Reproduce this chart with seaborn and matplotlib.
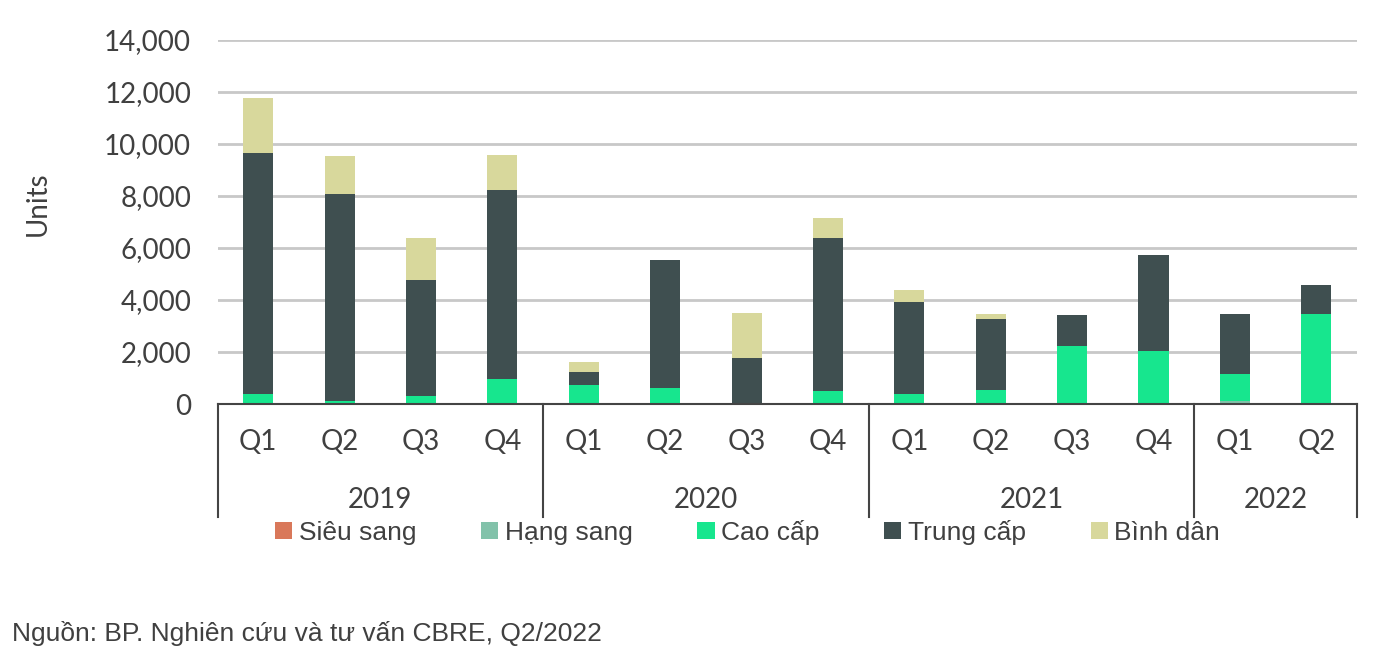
import numpy as np
import matplotlib
matplotlib.use("Agg")
import matplotlib.pyplot as plt
import seaborn as sns
from matplotlib.patches import Patch
from matplotlib.ticker import FuncFormatter

# Dữ liệu (units) theo quý
quy = ["Q1", "Q2", "Q3", "Q4", "Q1", "Q2", "Q3", "Q4", "Q1", "Q2", "Q3", "Q4", "Q1", "Q2"]
nam = ["2019", "2020", "2021", "2022"]
so_quy_moi_nam = [4, 4, 4, 2]
nhan = ["2019 Q1", "2019 Q2", "2019 Q3", "2019 Q4",
        "2020 Q1", "2020 Q2", "2020 Q3", "2020 Q4",
        "2021 Q1", "2021 Q2", "2021 Q3", "2021 Q4",
        "2022 Q1", "2022 Q2"]

sieu_sang = [0, 0, 0, 0, 0, 0, 0, 0, 0, 0, 0, 50, 0, 0]
hang_sang = [0, 0, 0, 0, 0, 0, 0, 0, 0, 0, 0, 0, 130, 0]
cao_cap = [400, 100, 300, 950, 730, 620, 0, 510, 395, 520, 2230, 1990, 1020, 3450]
trung_cap = [9260, 7990, 4460, 7290, 500, 4930, 1770, 5860, 3515, 2740, 1200, 3705, 2315, 1140]
binh_dan = [2105, 1440, 1607, 1340, 385, 0, 1730, 790, 460, 205, 0, 0, 0, 0]

phan_khuc = ["Siêu sang", "Hạng sang", "Cao cấp", "Trung cấp", "Bình dân"]
mau = ["#D9785A", "#82C2AA", "#17E68E", "#3F4F50", "#D8D89C"]

series = [sieu_sang, hang_sang, cao_cap, trung_cap, binh_dan]
cum = np.cumsum(np.array(series), axis=0)

fig = plt.figure(figsize=(13.77, 6.53), dpi=100)
ax = fig.add_axes([0.158, 0.3813, 0.8275, 0.5574])

# ve tu tren xuong (cong don) de tao cot chong
for i in range(len(series) - 1, -1, -1):
    sns.barplot(x=nhan, y=cum[i], color=mau[i], width=0.37, saturation=1,
                linewidth=0, ax=ax, zorder=3)

ax.set_xlim(-0.5, 13.5)
ax.set_ylim(0, 14000)
ax.set_yticks(range(0, 14001, 2000))
ax.yaxis.set_major_formatter(FuncFormatter(lambda v, p: f"{int(v):,}"))
ax.grid(axis="y", color="#C8C8C8", linewidth=2, zorder=0)
ax.set_axisbelow(True)
for s in ["top", "right", "left"]:
    ax.spines[s].set_visible(False)
ax.spines["bottom"].set_color("#444444")
ax.spines["bottom"].set_linewidth(1.5)
ax.spines["bottom"].set_zorder(5)

chu = "#404040"
ax.tick_params(axis="y", length=0, pad=19, labelsize=20, labelcolor=chu)
ax.tick_params(axis="x", length=0, labelbottom=False)
for t in ax.get_yticklabels():
    t.set_fontfamily("Lato")
ax.set_xlabel("")
ax.set_ylabel("Units", fontsize=20, color=chu, family="Lato")
ax.yaxis.set_label_coords(-0.146, 0.55)

# nhan truc x hai tang
trans = ax.get_xaxis_transform()
for i, q in enumerate(quy):
    ax.text(i, -0.105, q, transform=trans, ha="center", va="center",
            fontsize=20, color=chu, family="Lato")
vi_tri = -0.5
ranh = [vi_tri]
for n, k in zip(nam, so_quy_moi_nam):
    ax.text(vi_tri + k / 2, -0.265, n, transform=trans, ha="center", va="center",
            fontsize=20, color=chu, family="Lato")
    vi_tri += k
    ranh.append(vi_tri)
for r in ranh:
    ax.plot([r, r], [0, -0.31], transform=trans, color="#444444", lw=1.5,
            clip_on=False)

handles = [Patch(facecolor=c, edgecolor="none") for c in mau]
leg = fig.legend(handles, phan_khuc, loc="center", bbox_to_anchor=(0.543, 0.185),
                 ncol=5, frameon=False, handlelength=0.65, handleheight=0.65,
                 handletextpad=0.25, columnspacing=2.45,
                 prop={"family": "Liberation Sans", "size": 19})
for t in leg.get_texts():
    t.set_color(chu)

fig.text(0.009, 0.03, "Nguồn: BP. Nghiên cứu và tư vấn CBRE, Q2/2022",
         fontsize=19, color=chu, family="Liberation Sans", ha="left", va="center")

fig.savefig("out.png", dpi=100)
